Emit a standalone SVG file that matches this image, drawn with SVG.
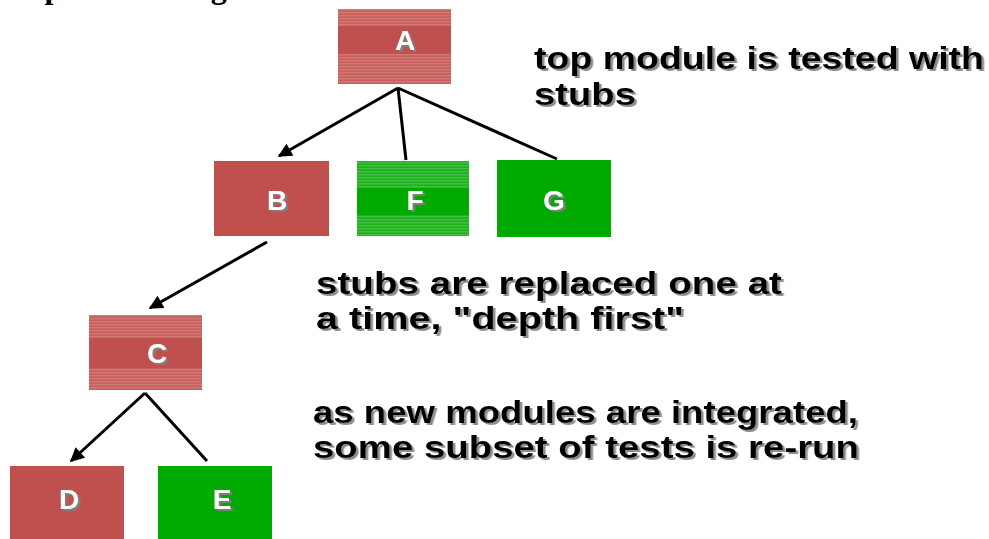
<svg xmlns="http://www.w3.org/2000/svg" width="989" height="539" viewBox="0 0 989 539">
<style>
.red{fill:#C0504D}
.green{fill:#00AA00}
.lbl{font-family:"Liberation Sans",Arial,sans-serif;font-weight:bold;font-size:28px;fill:#FFFFFF;text-anchor:middle;filter:url(#shadow)}
.note{font-family:"Liberation Sans",Arial,sans-serif;font-weight:bold;font-size:31px;fill:#000000;filter:url(#shadow)}
.title{font-family:"Liberation Serif","Times New Roman",serif;font-weight:bold;font-size:32px;fill:#000000}
.edge{stroke:#000000;stroke-width:3;fill:none}
</style>
<defs>
<filter id="shadow" x="-10%" y="-20%" width="130%" height="150%">
<feDropShadow dx="2.5" dy="2" stdDeviation="0.7" flood-color="#808080" flood-opacity="0.9"/>
</filter>
<pattern id="redStripe" patternUnits="userSpaceOnUse" width="6" height="3">
<rect width="6" height="3" fill="#C65F5C"/>
<rect width="6" height="1.4" fill="#D27976"/>
</pattern>
<pattern id="greenStripe" patternUnits="userSpaceOnUse" width="6" height="3">
<rect width="6" height="3" fill="#1CB21C"/>
<rect width="6" height="1.4" fill="#44BF44"/>
</pattern>
<marker id="arrow" viewBox="0 0 10 10" refX="9" refY="5" markerWidth="16" markerHeight="14" markerUnits="userSpaceOnUse" orient="auto">
<path d="M0,0 L10,5 L0,10 z" fill="#000000"/>
</marker>
</defs>

<text class="title" x="10" y="-2">Top-down Integration</text>

<g id="connectors">
<line class="edge" x1="398" y1="88" x2="279" y2="156" marker-end="url(#arrow)"/>
<line class="edge" x1="398" y1="88" x2="406" y2="160"/>
<line class="edge" x1="398" y1="88" x2="557" y2="159"/>
<line class="edge" x1="267" y1="242" x2="150" y2="308" marker-end="url(#arrow)"/>
<line class="edge" x1="145" y1="393" x2="71" y2="461" marker-end="url(#arrow)"/>
<line class="edge" x1="145" y1="393" x2="207" y2="461"/>
</g>

<g id="node-A">
<rect class="red" x="338" y="9" width="113" height="75"/>
<rect x="338" y="9" width="113" height="17" fill="url(#redStripe)"/>
<rect x="338" y="54" width="113" height="30" fill="url(#redStripe)"/>
<text class="lbl" x="405" y="50">A</text>
</g>

<g id="node-B">
<rect class="red" x="214" y="161" width="115" height="75"/>
<text class="lbl" x="277" y="210">B</text>
</g>

<g id="node-F">
<rect class="green" x="357" y="161" width="112" height="75"/>
<rect x="357" y="161" width="112" height="27" fill="url(#greenStripe)"/>
<rect x="357" y="215" width="112" height="21" fill="url(#greenStripe)"/>
<text class="lbl" x="415" y="210">F</text>
</g>

<g id="node-G">
<rect class="green" x="497" y="160" width="114" height="77"/>
<text class="lbl" x="554" y="210">G</text>
</g>

<g id="node-C">
<rect class="red" x="89" y="315" width="113" height="75"/>
<rect x="89" y="315" width="113" height="23" fill="url(#redStripe)"/>
<rect x="89" y="368" width="113" height="22" fill="url(#redStripe)"/>
<text class="lbl" x="157" y="363">C</text>
</g>

<g id="node-D">
<rect class="red" x="10" y="466" width="114" height="73"/>
<text class="lbl" x="69" y="509">D</text>
</g>

<g id="node-E">
<rect class="green" x="158" y="466" width="114" height="73"/>
<text class="lbl" x="222" y="509">E</text>
</g>

<g id="notes">
<text class="note" x="534" y="69" textLength="450" lengthAdjust="spacingAndGlyphs">top module is tested with</text>
<text class="note" x="534" y="105" textLength="102" lengthAdjust="spacingAndGlyphs">stubs</text>
<text class="note" x="316" y="294" textLength="466" lengthAdjust="spacingAndGlyphs">stubs are replaced one at</text>
<text class="note" x="316" y="329" textLength="368" lengthAdjust="spacingAndGlyphs">a time, "depth first"</text>
<text class="note" x="313" y="423" textLength="545" lengthAdjust="spacingAndGlyphs">as new modules are integrated,</text>
<text class="note" x="313" y="458" textLength="546" lengthAdjust="spacingAndGlyphs">some subset of tests is re-run</text>
</g>
</svg>
